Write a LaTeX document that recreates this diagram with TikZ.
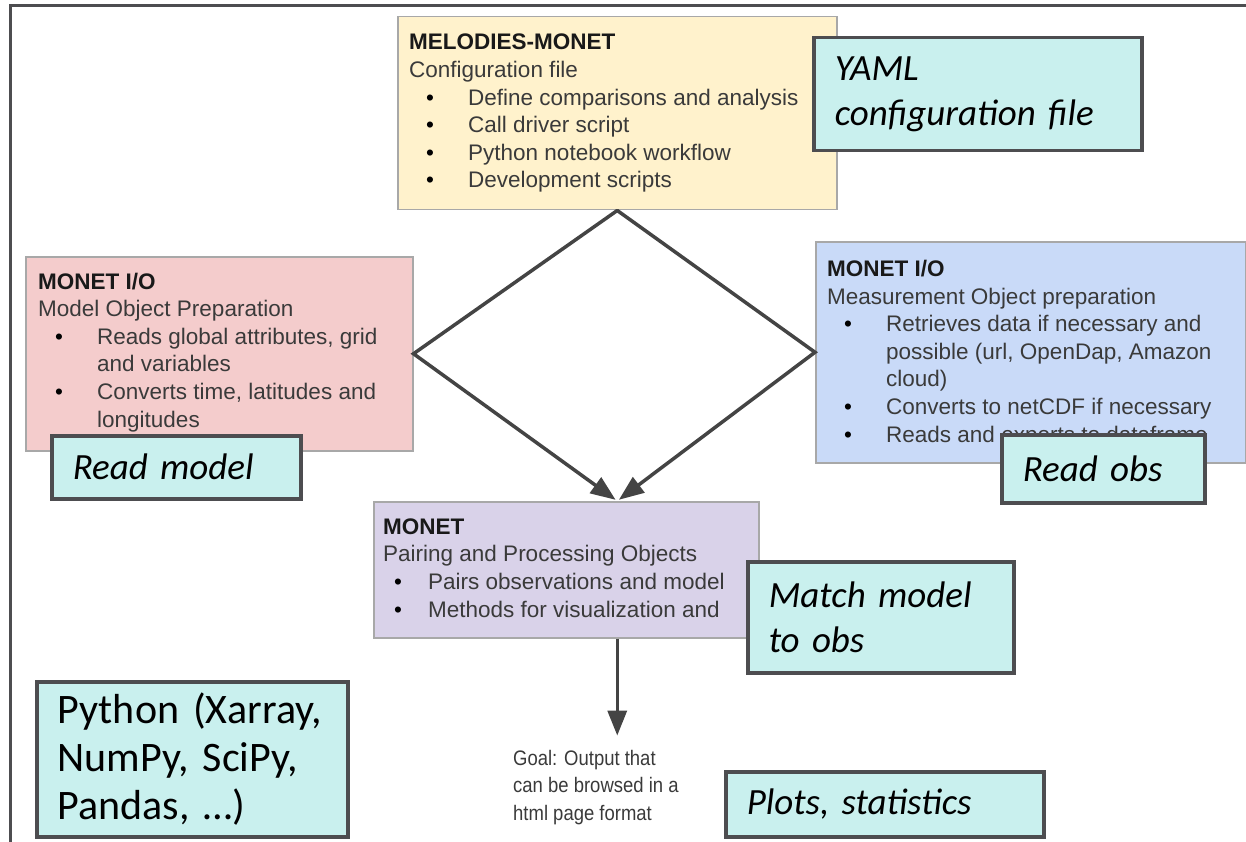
\documentclass[tikz,border=0pt]{standalone}
\usepackage{fontspec}
\setmainfont{Liberation Sans}
\newfontfamily\notefont[WordSpace=0.6]{Carlito}
\newfontfamily\goalfont[FakeStretch=0.88]{Liberation Sans}
\usetikzlibrary{arrows.meta}

\definecolor{cfgfill}{HTML}{FFF2CC}
\definecolor{modelfill}{HTML}{F4CCCC}
\definecolor{obsfill}{HTML}{C9DAF8}
\definecolor{pairfill}{HTML}{D9D2E9}
\definecolor{notefill}{HTML}{C9F0EE}
\definecolor{noteline}{HTML}{4D4D50}
\definecolor{boxline}{HTML}{A8A8A8}
\definecolor{linkgray}{HTML}{444444}
\definecolor{bodytext}{HTML}{3A3A3A}

% bullet items: wide and narrow indent, and wrapped lines
\newcommand{\itm}{\makebox[59pt][l]{\hspace*{17pt}{\color{black}\textbullet}}}
\newcommand{\itmn}{\makebox[45pt][l]{\hspace*{11pt}{\color{black}\textbullet}}}
\newcommand{\cont}{\hspace*{59pt}}
\newcommand{\hd}[1]{{\bfseries\color{black!90}#1}}

\begin{document}
\begin{tikzpicture}[
  x=1pt, y=-1pt,
  pastel/.style={draw=boxline, line width=1.5pt, anchor=north west, inner sep=0pt},
  boxtext/.style={anchor=base west, inner sep=0pt, align=left, text=bodytext,
    font=\fontsize{22.5}{27.6}\selectfont},
  note/.style={draw=noteline, fill=notefill, line width=3.5pt, anchor=north west,
    inner xsep=21pt, inner ysep=0pt, align=left,
    font=\notefont\itshape\fontsize{37}{45}\selectfont},
  link/.style={draw=linkgray, line width=3.5pt, line cap=round},
  flow/.style={link, -{Triangle[length=25pt, width=19pt]}}
]
\useasboundingbox (0,0) rectangle (1246,842);
\draw[draw=noteline, line width=3pt] (10,842) -- (10,6) -- (1246,6);

% coloured MONET boxes
\node[pastel, fill=cfgfill, minimum width=439pt, minimum height=193pt] (cfg) at (397,16) {};
\node[pastel, fill=modelfill, minimum width=387pt, minimum height=194pt] (model) at (25,256) {};
\node[pastel, fill=obsfill, minimum width=430pt, minimum height=221pt] (obs) at (815,241) {};
\node[pastel, fill=pairfill, minimum width=385pt, minimum height=136pt] (pair) at (373,501) {};

% texts sit on the baseline of their last line
\node[boxtext] (cfgtxt) at (409,188) {\hd{MELODIES-MONET}\\Configuration file\\
  \itm Define comparisons and analysis\\\itm Call driver script\\
  \itm Python notebook workflow\\\itm Development scripts};
\node[boxtext] (modeltxt) at (38,427) {\hd{MONET I/O}\\Model Object Preparation\\
  \itm Reads global attributes, grid\\\cont and variables\\
  \itm Converts time, latitudes and\\\cont longitudes};
\node[boxtext] (obstxt) at (827,442) {\hd{MONET I/O}\\Measurement Object preparation\\
  \itm Retrieves data if necessary and\\\cont possible (url, OpenDap, Amazon\\\cont cloud)\\
  \itm Converts to netCDF if necessary\\\itm Reads and exports to dataframe};
\node[boxtext] (pairtxt) at (383,617) {\hd{MONET}\\Pairing and Processing Objects\\
  \itmn Pairs observations and model\\\itmn Methods for visualization and};
\node[boxtext, font=\goalfont\fontsize{21}{27.5}\selectfont] (goal) at (513,820)
  {Goal: Output that\\can be browsed in a\\html page format};

% diamond and arrows
\draw[flow, shorten >=2pt] (cfg.south) -- (model.east) -- (pair.north -| cfg.south);
\draw[flow, shorten >=2pt] (cfg.south) -- (obs.west) -- (pair.north -| cfg.south);
\draw[flow, line cap=butt, shorten >=14pt] (pair.south -| cfg.south) -- (goal.north -| cfg.south);

% notes on top
\node[note, text width=286pt, minimum height=113pt] (yamlnote) at (812,36) {YAML\\configuration file};
\node[note, text width=207pt, minimum height=63pt] (readmodel) at (50,434) {Read model};
\node[note, text width=161pt, minimum height=68pt] (readobs) at (1000,433) {Read obs};
\node[note, text width=224pt, minimum height=111pt] (matchnote) at (746,560) {Match model\\to obs};
\node[note, text width=269pt, minimum height=155pt, font=\notefont\fontsize{42}{48}\selectfont] (pynote) at (35,680)
  {Python (Xarray,\\NumPy, SciPy,\\Pandas, \dots)};
\node[note, text width=276pt, minimum height=65pt] (plots) at (724,770) {Plots, statistics};
\end{tikzpicture}
\end{document}
